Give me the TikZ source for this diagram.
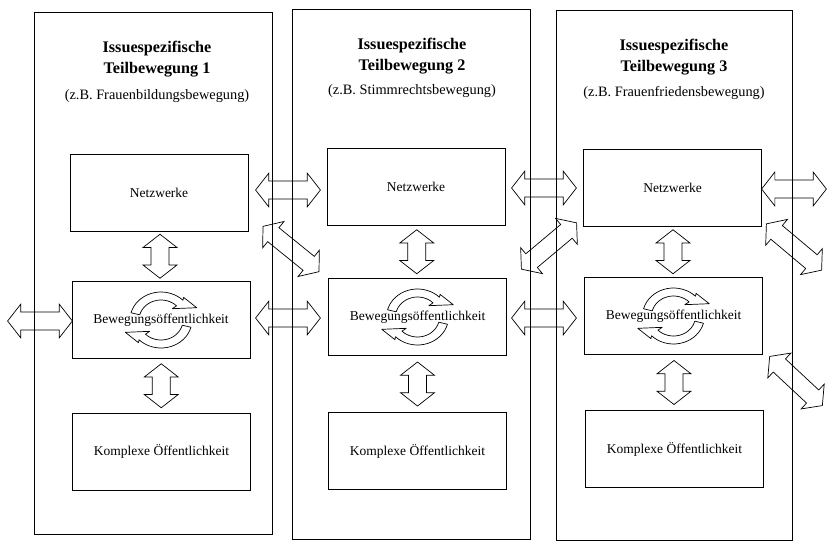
\documentclass[tikz,border=0pt]{standalone}
\usepackage{fontspec}
\setmainfont{Liberation Serif}
\usetikzlibrary{shapes.arrows, calc}

\begin{document}
\begin{tikzpicture}[x=0.025cm, y=-0.025cm,
  teil/.style={rectangle, draw=black, line width=0.5pt,
               minimum width=5.95cm, minimum height=13.25cm},
  feld/.style={rectangle, draw=black, line width=0.5pt,
               minimum width=4.45cm, minimum height=1.92cm,
               font=\fontsize{9.6}{11}\selectfont},
  kopf/.style={align=center, font=\fontsize{11.5}{14.5}\selectfont\bfseries},
  bsp/.style={font=\fontsize{10.2}{12}\selectfont},
  pfeil/.style={double arrow, draw=black, line width=0.5pt,
                inner xsep=0pt, inner ysep=0.215cm,
                double arrow head extend=0.2cm, double arrow tip angle=104,
                minimum height=1.62cm},
  kreis/.pic={
    \foreach \a/\b in {195/315, 15/135}{
      \draw[line width=0.5pt, line join=round]
        plot[domain=\a:\b, samples=18] ({31*cos(\x)}, {28*sin(\x)})
        -- ({32*cos(\b)}, {32*sin(\b)})
        -- ({38*cos(\b+25)}, {36*sin(\b+25)})
        -- ({16*cos(\b)}, {16*sin(\b)})
        -- plot[domain=\b:\a, samples=18] ({22*cos(\x)}, {20*sin(\x)})
        -- cycle;}
  }
]
\useasboundingbox (0,0) rectangle (827,547);
%% Teilbewegungen
\node[teil, minimum height=13.03cm] (teil1) at (153.5,273.5) {};
\node[teil] (teil2) at (411.5,274.5) {};
\node[teil, minimum width=5.9cm] (teil3) at (674,275.5) {};
%% Titel
\node[kopf] (kopf1) at (157,59) {Issuespezifische\\Teilbewegung 1};
\node[bsp]  (bsp1)  at (157,96) {(z.B. Frauenbildungsbewegung)};
\node[kopf] (kopf2) at (412,56) {Issuespezifische\\Teilbewegung 2};
\node[bsp]  (bsp2)  at (412,91) {(z.B. Stimmrechtsbewegung)};
\node[kopf] (kopf3) at (674,57) {Issuespezifische\\Teilbewegung 3};
\node[bsp]  (bsp3)  at (674,93) {(z.B. Frauenfriedensbewegung)};
%% Ebenen
\node[feld] (net1) at (159,192.5) {Netzwerke};
\node[feld] (bew1) at (161,320)   {Bewegungsöffentlichkeit};
\node[feld] (kom1) at (161.5,451.5) {Komplexe Öffentlichkeit};
\node[feld] (net2) at (416,186.5) {Netzwerke};
\node[feld] (bew2) at (417.5,317) {Bewegungsöffentlichkeit};
\node[feld] (kom2) at (417.5,451) {Komplexe Öffentlichkeit};
\node[feld] (net3) at (672.5,187.5) {Netzwerke};
\node[feld] (bew3) at (673.5,316) {Bewegungsöffentlichkeit};
\node[feld] (kom3) at (674.5,449) {Komplexe Öffentlichkeit};
%% Kreislauf
\foreach \n in {bew1,bew2,bew3}
  \pic at (\n) {kreis};
%% Pfeile innen
\foreach \i in {1,2,3}{
  \node[pfeil, rotate=90, minimum height=1.1cm] (o\i) at ($(net\i.south)!0.5!(bew\i.north)$) {};
  \node[pfeil, rotate=90, minimum height=1.1cm] (u\i) at ($(bew\i.south)!0.5!(kom\i.north)$) {};}
%% Pfeile zwischen den Teilbewegungen
\node[pfeil] (h0)   at (40,321)  {};
\node[pfeil] (h12n) at (288,190) {};
\node[pfeil] (h12b) at (288,318) {};
\node[pfeil] (h23n) at (544,188) {};
\node[pfeil] (h23b) at (544,318) {};
\node[pfeil] (h3n)  at (794,189) {};
\node[pfeil, rotate=-39, minimum height=1.8cm] (d12) at (291,249) {};
\node[pfeil, rotate=40,  minimum height=1.8cm] (d23) at (549,246) {};
\node[pfeil, rotate=-40, minimum height=1.8cm] (d3a) at (794,247) {};
\node[pfeil, rotate=-43, minimum height=1.8cm] (d3b) at (796,381) {};
\end{tikzpicture}
\end{document}
